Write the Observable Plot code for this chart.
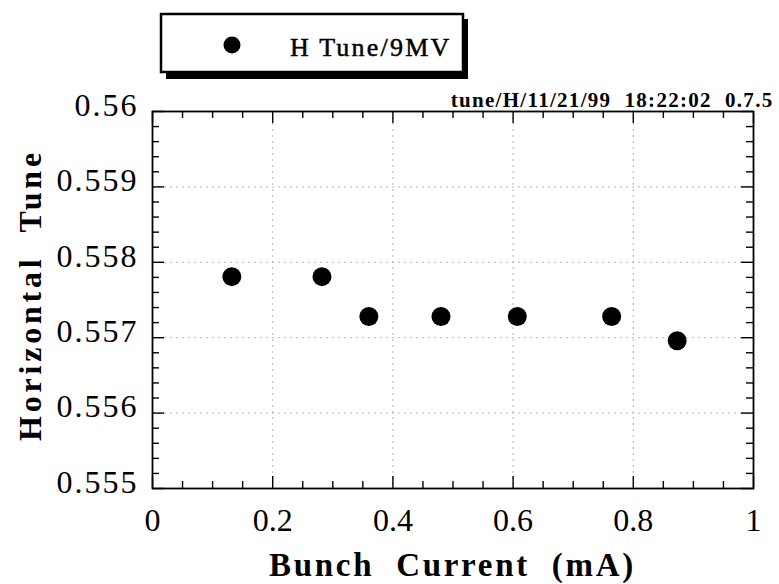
<!DOCTYPE html>
<html><head><meta charset="utf-8">
<script src="https://cdn.jsdelivr.net/npm/d3@7"></script>
<script src="https://cdn.jsdelivr.net/npm/@observablehq/plot@0.6"></script>
<style>body{margin:0;background:#fff} svg{display:block}</style>
</head><body><div id="chart"></div>
<script>
const current = [0.132, 0.282, 0.360, 0.480, 0.607, 0.764, 0.873];
const tune = [0.55781, 0.55781, 0.55728, 0.55728, 0.55728, 0.55728, 0.55696];
const seriesName = "H Tune/9MV";
const xTicks = [0, 0.2, 0.4, 0.6, 0.8, 1];
const yTicks = [0.555, 0.556, 0.557, 0.558, 0.559, 0.56];
const xMinor = [0.05,0.1,0.15,0.25,0.3,0.35,0.45,0.5,0.55,0.65,0.7,0.75,0.85,0.9,0.95];
const yMinor = [0.5552,0.5554,0.5556,0.5558,0.5562,0.5564,0.5566,0.5568,0.5572,0.5574,0.5576,0.5578,
                0.5582,0.5584,0.5586,0.5588,0.5592,0.5594,0.5596,0.5598];
const xTitle = "Bunch  Current  (mA)";
const yTitle = "Horizontal  Tune";
const stamp = "tune/H/11/21/99  18:22:02  0.7.5";

const data = current.map((x, i) => ({x, y: tune[i]}));
const W = 779, H = 584, mL = 152, mR = 26, mT = 111, mB = 96;
const fh = H - mT - mB, fw = W - mL - mR;
const font = "'Liberation Serif', 'Times New Roman', serif";
const fmtX = d => String(+d.toFixed(1));
const fmtY = d => String(+d.toFixed(3));
const heavy = {stroke: "black", strokeWidth: 0.5};

const plot = Plot.plot({
  width: W, height: H,
  marginLeft: mL, marginRight: mR, marginTop: mT, marginBottom: mB,
  style: {fontFamily: font, background: "white", color: "black"},
  x: {domain: [0, 1]},
  y: {domain: [0.555, 0.56]},
  marks: [
    Plot.gridX(xTicks, {stroke: "#888", strokeOpacity: 0.6, strokeDasharray: "2,4"}),
    Plot.gridY(yTicks, {stroke: "#888", strokeOpacity: 0.6, strokeDasharray: "2,4"}),
    // inward ticks on all four sides
    Plot.tickX(xTicks, {x: d => d, insetTop: fh - 12, strokeWidth: 1.4}),
    Plot.tickX(xTicks, {x: d => d, insetBottom: fh - 12, strokeWidth: 1.4}),
    Plot.tickX(xMinor, {x: d => d, insetTop: fh - 7, strokeWidth: 1.4}),
    Plot.tickX(xMinor, {x: d => d, insetBottom: fh - 7, strokeWidth: 1.4}),
    Plot.tickY(yTicks, {y: d => d, insetRight: fw - 12, strokeWidth: 1.4}),
    Plot.tickY(yTicks, {y: d => d, insetLeft: fw - 12, strokeWidth: 1.4}),
    Plot.tickY(yMinor, {y: d => d, insetRight: fw - 7, strokeWidth: 1.4}),
    Plot.tickY(yMinor, {y: d => d, insetLeft: fw - 7, strokeWidth: 1.4}),
    Plot.axisX(xTicks, {tickSize: 0, tickPadding: 20, tickFormat: fmtX, fontSize: 32, label: null, ...heavy}),
    Plot.axisY(yTicks, {tickSize: 0, tickPadding: 14, dy: -6, tickFormat: fmtY, fontSize: 32, label: null, ...heavy}),
    Plot.frame({stroke: "black", strokeWidth: 1.8}),
    Plot.dot(data, {x: "x", y: "y", r: 9.5, fill: "black"}),
    Plot.text([stamp], {text: d => d, frameAnchor: "top-right", textAnchor: "end", lineAnchor: "bottom",
      dy: -5, dx: 20, fontSize: 21, fontWeight: "bold", fill: "black"})
  ]
});

const svg = d3.select(plot);
svg.selectAll("g[aria-label='y-axis tick label']").attr("letter-spacing", 2);
svg.selectAll("g[aria-label='text']").attr("letter-spacing", 1.3);
// axis titles
svg.append("text").attr("x", mL + fw / 2).attr("y", 576).attr("text-anchor", "middle")
  .attr("font-size", 33).attr("font-weight", "bold").attr("letter-spacing", 2.7)
  .attr("font-family", font).attr("fill", "black").text(xTitle);
svg.append("text").attr("transform", `translate(41,295) rotate(-90)`).attr("text-anchor", "middle")
  .attr("font-size", 32).attr("font-weight", "bold").attr("letter-spacing", 3.8)
  .attr("font-family", font).attr("fill", "black").text(yTitle);
// legend box with drop shadow
const g = svg.append("g");
g.append("rect").attr("x", 166).attr("y", 19).attr("width", 302).attr("height", 60).attr("fill", "black");
g.append("rect").attr("x", 161).attr("y", 14).attr("width", 302).attr("height", 58)
  .attr("fill", "white").attr("stroke", "black").attr("stroke-width", 2.5);
g.append("circle").attr("cx", 232).attr("cy", 45).attr("r", 8.5).attr("fill", "black");
g.append("text").attr("x", 290).attr("y", 56).attr("text-anchor", "start").attr("font-size", 26)
  .attr("letter-spacing", 2.2).attr("stroke", "black").attr("stroke-width", 0.5)
  .attr("font-family", font).attr("fill", "black").text(seriesName);

document.getElementById("chart").appendChild(plot);
</script>
</body></html>
